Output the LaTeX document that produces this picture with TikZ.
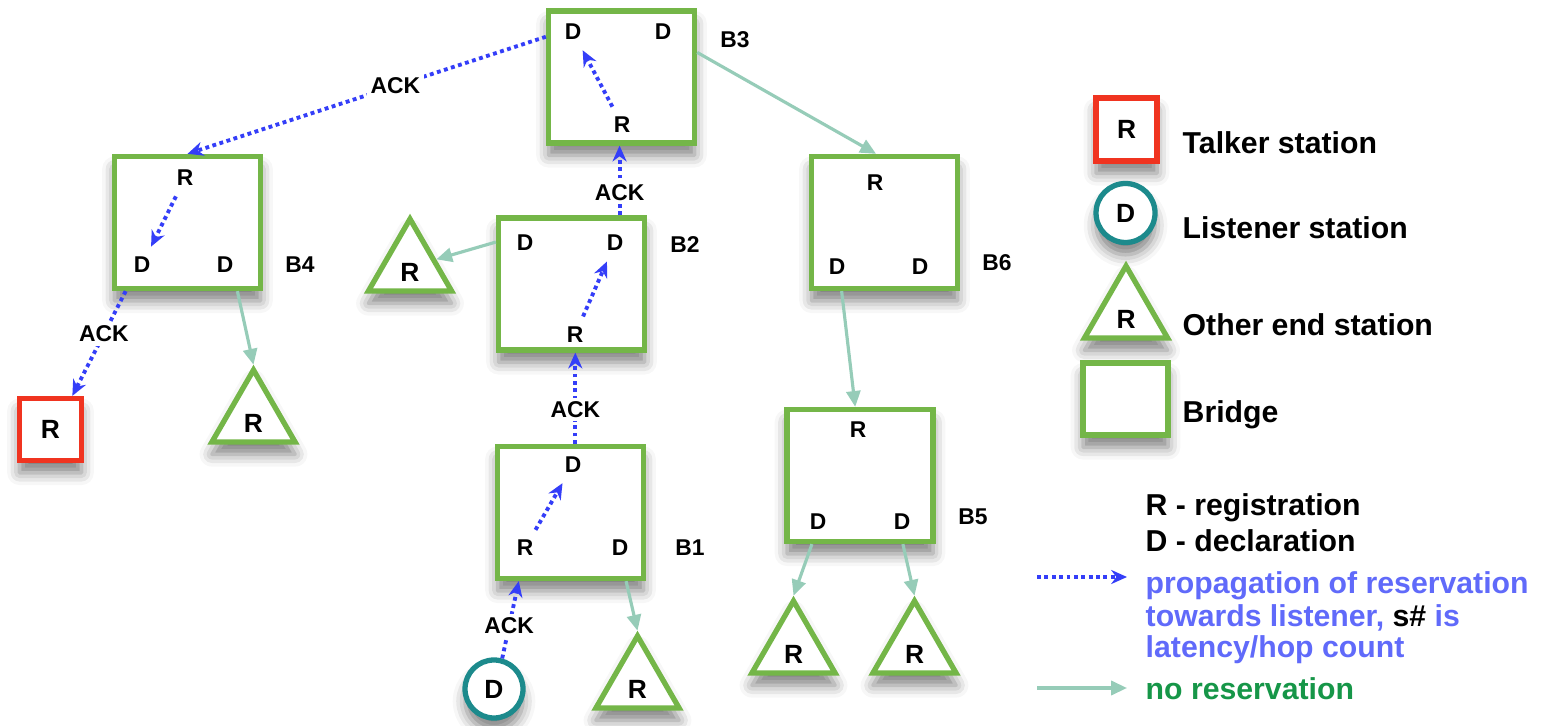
\documentclass[tikz,border=0pt]{standalone}
\usepackage{fontspec}
\setmainfont{Liberation Sans}
\usepackage{xcolor}
\usepackage{tikz}
\usetikzlibrary{shapes.geometric, arrows.meta, positioning, shadows.blur}
\definecolor{brgreen}{RGB}{116, 182, 72}
\definecolor{tkred}{RGB}{240, 52, 32}
\definecolor{lsteal}{RGB}{28, 138, 140}
\definecolor{resvblue}{RGB}{52, 62, 248}
\definecolor{resvtext}{RGB}{96, 106, 250}
\definecolor{nrgreen}{RGB}{150, 204, 184}
\definecolor{nrtext}{RGB}{22, 150, 72}

\begin{document}
\begin{tikzpicture}[
  softshadow/.style={blur shadow={shadow xshift=0pt, shadow yshift=-3.5pt, shadow blur radius=3.5pt, shadow opacity=50}},
  bridge/.style={draw=brgreen, fill=white, line width=1.5pt, minimum width=1.46cm, minimum height=1.32cm, softshadow},
  talker/.style={draw=tkred, fill=white, line width=1.5pt, minimum size=0.62cm, inner sep=0pt, font=\fontsize{7.5}{8}\selectfont\bfseries, softshadow},
  listener/.style={circle, draw=lsteal, fill=white, line width=1.5pt, minimum size=0.58cm, inner sep=0pt, font=\fontsize{7.5}{8}\selectfont\bfseries, softshadow},
  endst/.style={regular polygon, regular polygon sides=3, draw=brgreen, fill=white, line width=1.5pt, minimum size=0.96cm, inner sep=0pt, text height=8pt, text depth=0pt, font=\fontsize{7.5}{8}\selectfont\bfseries, softshadow},
  port/.style={inner sep=1pt, font=\fontsize{6.5}{7}\selectfont\bfseries},
  tag/.style={inner sep=1pt, font=\fontsize{6.5}{7}\selectfont\bfseries},
  ack/.style={fill=white, text=black, inner sep=1pt, font=\fontsize{6.5}{7}\selectfont\bfseries},
  legtext/.style={anchor=west, inner sep=0pt, font=\fontsize{8.6}{10}\selectfont\bfseries},
  resv/.style={-{Stealth[length=4.5pt, width=4pt]}, densely dotted, line width=1.1pt, color=resvblue},
  inresv/.style={resv, shorten <=2pt, shorten >=2pt},
  noresv/.style={-{Triangle[length=4.5pt, width=4pt]}, line width=0.9pt, color=nrgreen}
]
  \useasboundingbox (0,0) rectangle (15.6,7.25);

  % Bridges
  \node[bridge] (b3) at (6.215, 6.48) {};
  \node[bridge] (b4) at (1.875, 5.025) {};
  \node[bridge] (b2) at (5.715, 4.41) {};
  \node[bridge] (b6) at (8.845, 5.025) {};
  \node[bridge] (b1) at (5.705, 2.125) {};
  \node[bridge] (b5) at (8.60, 2.495) {};

  \node[tag] (lb3) at (7.35, 6.85) {B3};
  \node[tag] (lb4) at (3.00, 4.60) {B4};
  \node[tag] (lb2) at (6.85, 4.80) {B2};
  \node[tag] (lb6) at (9.97, 4.62) {B6};
  \node[tag] (lb1) at (6.90, 1.77) {B1};
  \node[tag] (lb5) at (9.73, 2.08) {B5};

  % Ports inside the bridges
  \node[port] (b3dl) at (5.73, 6.93) {D};
  \node[port] (b3dr) at (6.63, 6.93) {D};
  \node[port] (b3r) at (6.22, 6.00) {R};
  \node[port] (b4r) at (1.85, 5.47) {R};
  \node[port] (b4dl) at (1.42, 4.60) {D};
  \node[port] (b4dr) at (2.25, 4.60) {D};
  \node[port] (b2dl) at (5.25, 4.82) {D};
  \node[port] (b2dr) at (6.15, 4.82) {D};
  \node[port] (b2r) at (5.75, 3.90) {R};
  \node[port] (b6r) at (8.75, 5.42) {R};
  \node[port] (b6dl) at (8.37, 4.58) {D};
  \node[port] (b6dr) at (9.20, 4.58) {D};
  \node[port] (b1dt) at (5.73, 2.60) {D};
  \node[port] (b1r) at (5.25, 1.77) {R};
  \node[port] (b1dr) at (6.20, 1.77) {D};
  \node[port] (b5r) at (8.58, 2.95) {R};
  \node[port] (b5dl) at (8.18, 2.03) {D};
  \node[port] (b5dr) at (9.02, 2.03) {D};

  % End stations
  \node[talker] (tal) at (0.505, 2.955) {R};
  \node[listener] (lis) at (4.94, 0.36) {D};
  \node[endst] (tb4) at (2.535, 3.07) {R};
  \node[endst] (tb2) at (4.10, 4.58) {R};
  \node[endst] (tb1) at (6.375, 0.41) {R};
  \node[endst] (tb5a) at (7.935, 0.76) {R};
  \node[endst] (tb5b) at (9.145, 0.76) {R};

  % Reservation path (ACK)
  \draw[resv] (b3.152) -- node[ack, pos=0.42] (ack1) {ACK} (b4.north);
  \draw[resv] (b2.55) -- node[ack, pos=0.33] (ack2) {ACK} (b2.55 |- b3.south);
  \draw[resv] (b1.86) -- node[ack, pos=0.38] (ack3) {ACK} (b1.86 |- b2.south);
  \draw[resv] (lis.75) -- node[ack, pos=0.42] (ack4) {ACK} (b1.233);
  \draw[resv] (b4.228) -- node[ack, pos=0.41] (ack5) {ACK} (tal.57);
  \draw[inresv] (b3r) -- (b3dl);
  \draw[inresv] (b4r) -- (b4dl);
  \draw[inresv] (b2r) -- (b2dr);
  \draw[inresv] (b1r) -- (b1dt);

  % No reservation
  \draw[noresv] (b3.18) -- (b6.97);
  \draw[noresv] (b6.238) -- (b5.94);
  \draw[noresv] (b4.306) -- (tb4.north);
  \draw[noresv] (b2.151) -- (tb2);
  \draw[noresv] (b1.309) -- (tb1.north);
  \draw[noresv] (b5.235) -- (tb5a.north);
  \draw[noresv] (b5.302) -- (tb5b.north);

  % Legend
  \node[talker, minimum width=0.61cm, minimum height=0.63cm] (ltal) at (11.265, 5.955) {R};
  \node[listener, minimum size=0.59cm] (llis) at (11.255, 5.12) {D};
  \node[endst] (lend) at (11.26, 4.11) {R};
  \node[bridge, minimum width=0.85cm, minimum height=0.72cm] (lbr) at (11.255, 3.26) {};
  \node[legtext] (ttal) at (11.82, 5.82) {Talker station};
  \node[legtext] (tlis) at (11.82, 4.97) {Listener station};
  \node[legtext] (tend) at (11.82, 4.00) {Other end station};
  \node[legtext] (tbr) at (11.82, 3.10) {Bridge};

  \node[legtext] (treg) at (11.45, 2.17) {R - registration};
  \node[legtext] (tdec) at (11.45, 1.84) {D - declaration};
  \node[legtext, text=resvtext] (tprop1) at (11.45, 1.39) {propagation of reservation};
  \node[legtext, text=resvtext] (tprop2) at (11.45, 1.07) {towards listener, \textcolor{black}{s\#} is};
  \node[legtext, text=resvtext] (tprop3) at (11.45, 0.75) {latency/hop count};
  \node[legtext, text=nrtext] (tnores) at (11.45, 0.36) {no reservation};
  \coordinate (kr1) at (10.37, 1.48);
  \coordinate (kr2) at (11.27, 1.48);
  \coordinate (kn1) at (10.37, 0.37);
  \coordinate (kn2) at (11.27, 0.37);
  \draw[resv] (kr1) -- (kr2);
  \draw[noresv] (kn1) -- (kn2);
\end{tikzpicture}
\end{document}
